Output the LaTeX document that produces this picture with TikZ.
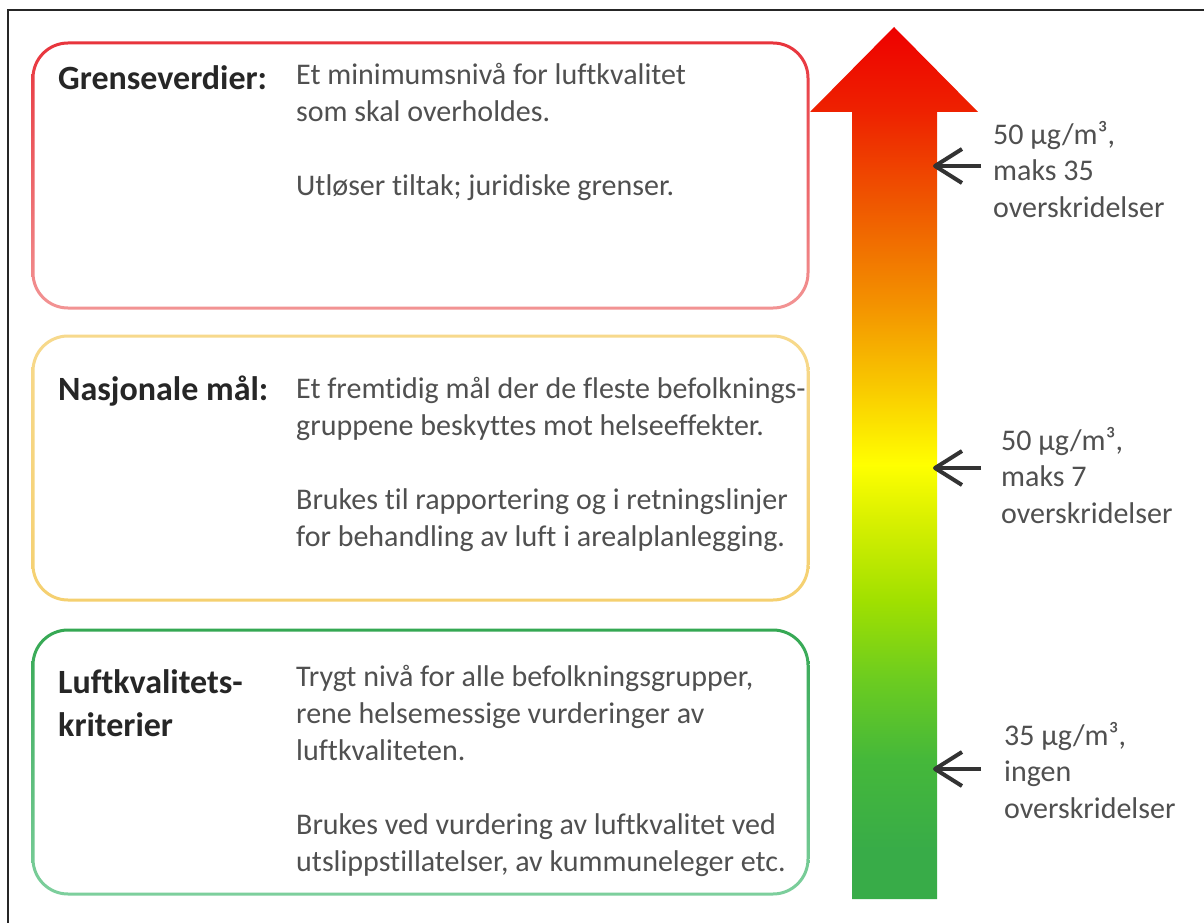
\documentclass[tikz,border=0pt]{standalone}
\usepackage{fontspec}
\setmainfont{Carlito}[Ligatures=NoCommon]
\definecolor{hg0}{HTML}{38AC48}
\definecolor{hg1}{HTML}{45B83A}
\definecolor{hg2}{HTML}{6CCC20}
\definecolor{hg3}{HTML}{A0E000}
\definecolor{hg4}{HTML}{D8F000}
\definecolor{hy}{HTML}{FFFF00}
\definecolor{ho1}{HTML}{F8C400}
\definecolor{ho2}{HTML}{F39000}
\definecolor{ho3}{HTML}{EF5500}
\definecolor{hr1}{HTML}{EE2200}
\definecolor{hr0}{HTML}{EE0000}
\definecolor{redT}{HTML}{E8343C}
\definecolor{redB}{HTML}{F29494}
\definecolor{yelT}{HTML}{F7D98C}
\definecolor{yelB}{HTML}{F5D070}
\definecolor{grnT}{HTML}{35A853}
\definecolor{grnB}{HTML}{7DCF9D}
\definecolor{headc}{HTML}{262626}
\definecolor{bodyc}{HTML}{505050}
\definecolor{ptrc}{HTML}{333333}
\pgfdeclareverticalshading{heat}{100bp}{color(0bp)=(hg0); color(25bp)=(hg0); color(27.8bp)=(hg0); color(33bp)=(hg1); color(37.6bp)=(hg2); color(42.1bp)=(hg3); color(46.7bp)=(hg4); color(49.9bp)=(hy); color(54.8bp)=(ho1); color(59.3bp)=(ho2); color(65.1bp)=(ho3); color(70.1bp)=(hr1); color(75bp)=(hr0); color(100bp)=(hr0)}
\newcommand{\bodytxt}[1]{\parbox[t]{520pt}{\fontsize{30}{37}\selectfont\raggedright #1}}
\newcommand{\labtxt}[1]{\parbox[t]{200pt}{\fontsize{30}{36.5}\selectfont\raggedright #1}}
\newcommand{\headtxt}[1]{\parbox[t]{240pt}{\fontsize{34}{43}\selectfont\bfseries\raggedright #1}}
\begin{document}
\begin{tikzpicture}[x=1pt,y=-1pt,
  head/.style={anchor=base west, inner sep=0pt, text=headc},
  body/.style={anchor=base west, inner sep=0pt, text=bodyc},
  lab/.style={anchor=base west, inner sep=0pt, text=bodyc},
  ptr/.style={draw=ptrc, line width=4pt},
  chev/.style={draw=ptrc, line width=4pt, line join=round}]
\useasboundingbox[fill=white] (0,0) rectangle (1204,923);
\draw[line width=2.5pt, black!85] (8,923) -- (8,10) -- (1204,10);
% boxes
\shade[even odd rule, top color=redT, bottom color=redB]
  (31.5,41.5) [rounded corners=36.5pt] rectangle (809.5,309.5)
  [rounded corners=33.5pt] (34.5,44.5) rectangle (806.5,306.5);
\shade[even odd rule, top color=yelT, bottom color=yelB]
  (31.5,334.5) [rounded corners=36.5pt] rectangle (809.5,601.5)
  [rounded corners=33.5pt] (34.5,337.5) rectangle (806.5,598.5);
\shade[even odd rule, top color=grnT, bottom color=grnB]
  (31.5,628.5) [rounded corners=36.5pt] rectangle (809.5,895.5)
  [rounded corners=33.5pt] (34.5,631.5) rectangle (806.5,892.5);
% big arrow
\shade[shading=heat] (852,899) -- (852,112) -- (810,112) -- (894,27) -- (978,112) -- (937,112) -- (937,899) -- cycle;
% texts
\node[head] (h1) at (58,90) {\headtxt{Grenseverdier:}};
\node[body] (b1) at (296,85) {\bodytxt{Et minimumsnivå for luftkvalitet\\som skal overholdes.\\[37pt]Utløser tiltak; juridiske grenser.}};
\node[head] (h2) at (58,400) {\headtxt{Nasjonale mål:}};
\node[body] (b2) at (296,398) {\bodytxt{Et fremtidig mål der de fleste befolknings-\\gruppene beskyttes mot helseeffekter.\\[37pt]Brukes til rapportering og i retningslinjer\\for behandling av luft i arealplanlegging.}};
\node[head] (h3) at (58,693) {\headtxt{Luftkvalitets-\\kriterier}};
\node[body] (b3) at (296,686) {\bodytxt{Trygt nivå for alle befolkningsgrupper,\\rene helsemessige vurderinger av\\luftkvaliteten.\\[37pt]Brukes ved vurdering av luftkvalitet ved\\utslippstillatelser, av kummuneleger etc.}};
% labels
\node[lab] (l1) at (993,144) {\labtxt{50 µg/m³,\\maks 35\\overskridelser}};
\node[lab] (l2) at (1001,450) {\labtxt{50 µg/m³,\\maks 7\\overskridelser}};
\node[lab] (l3) at (1004,745) {\labtxt{35 µg/m³,\\ingen\\overskridelser}};
% pointers
\coordinate (s1) at (981,166); \coordinate (t1) at (935,166);
\coordinate (s2) at (981,468); \coordinate (t2) at (935,468);
\coordinate (s3) at (981,769); \coordinate (t3) at (935,769);
\draw[ptr] (s1) -- (t1);
\draw[ptr] (s2) -- (t2);
\draw[ptr] (s3) -- (t3);
\draw[chev] (t1) ++(27,-17) -- (t1) -- ++(27,17);
\draw[chev] (t2) ++(27,-17) -- (t2) -- ++(27,17);
\draw[chev] (t3) ++(27,-17) -- (t3) -- ++(27,17);
\end{tikzpicture}
\end{document}
